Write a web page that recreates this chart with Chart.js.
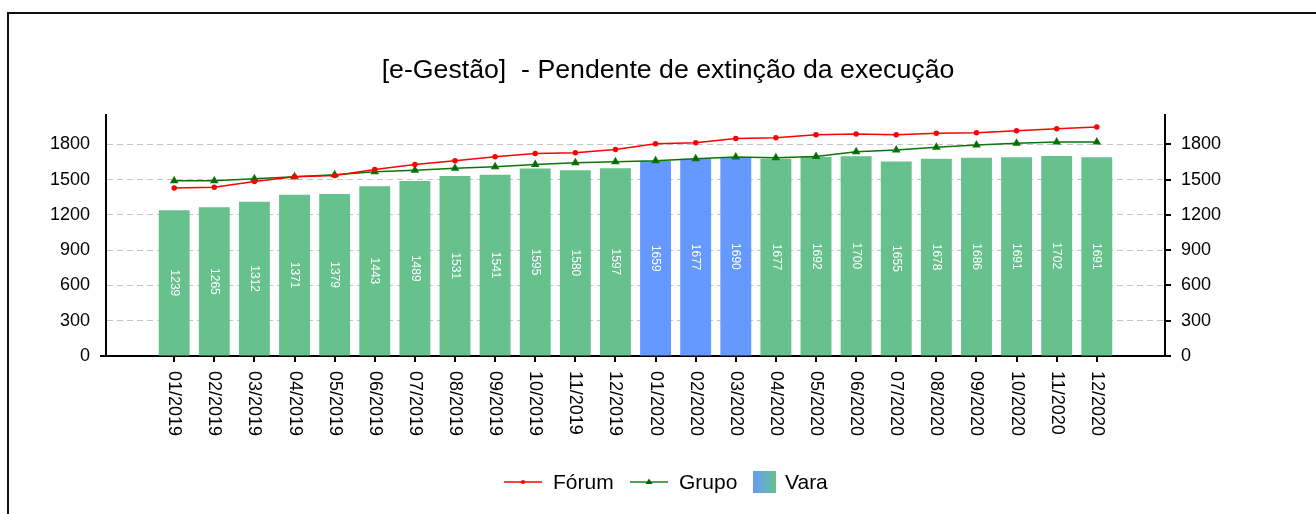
<!DOCTYPE html>
<html>
<head>
<meta charset="utf-8">
<script src="https://cdn.jsdelivr.net/npm/chart.js@4.4.1/dist/chart.umd.min.js"></script>
<style>
    html, body { margin: 0; padding: 0; background: #fff; overflow: hidden; }
    #moldura { position: absolute; left: 7px; top: 12px; width: 1400px; height: 600px; border-left: 2px solid #111; border-top: 2px solid #111; }
    #grafico { position: absolute; left: 0; top: 0; }
</style>
</head>
<body>
<div id="moldura"></div>
<canvas id="grafico" width="1316" height="514"></canvas>
<script>
// dados
const meses = ['01/2019', '02/2019', '03/2019', '04/2019', '05/2019', '06/2019', '07/2019', '08/2019', '09/2019', '10/2019', '11/2019', '12/2019',
               '01/2020', '02/2020', '03/2020', '04/2020', '05/2020', '06/2020', '07/2020', '08/2020', '09/2020', '10/2020', '11/2020', '12/2020'];
const vara  = [1239, 1265, 1312, 1371, 1379, 1443, 1489, 1531, 1541, 1595, 1580, 1597, 1659, 1677, 1690, 1677, 1692, 1700, 1655, 1678, 1686, 1691, 1702, 1691];
const forum = [1430, 1436, 1484, 1524, 1535, 1587, 1629, 1661, 1695, 1723, 1729, 1757, 1805, 1814, 1851, 1857, 1882, 1888, 1882, 1894, 1899, 1916, 1933, 1948];
const grupo = [1490, 1490, 1507, 1524, 1541, 1567, 1581, 1598, 1610, 1629, 1644, 1652, 1661, 1678, 1692, 1686, 1698, 1738, 1752, 1775, 1794, 1809, 1820, 1820];
const mesesDestaque = ['01/2020', '02/2020', '03/2020']; // barras em azul
const ticksY = [0, 300, 600, 900, 1200, 1500, 1800];

const titulo = '[e-Gestão]  - Pendente de extinção da execução';
const fonte = "'Liberation Sans', Arial, sans-serif";

const VERDE = '#66c18c';
const AZUL = '#6699ff';

Chart.defaults.font.family = fonte;
Chart.defaults.color = '#000';

// desenha titulo, rotulos do eixo x, valores nas barras e a legenda
const extras = {
    id: 'extras',
    afterDraw(chart) {
        const ctx = chart.ctx;
        const xs = chart.scales.x;
        const ca = chart.chartArea;

        ctx.save();
        // titulo
        ctx.font = '26.7px ' + fonte;
        ctx.fillStyle = '#000';
        ctx.textAlign = 'center';
        ctx.textBaseline = 'alphabetic';
        ctx.fillText(titulo, 668, 78);

        // tracinho do zero no eixo esquerdo
        ctx.strokeStyle = '#000';
        ctx.lineWidth = 2;
        ctx.beginPath(); ctx.moveTo(ca.left - 6, ca.bottom); ctx.lineTo(ca.left, ca.bottom); ctx.stroke();

        // rotulos do eixo x (girados, lendo de cima pra baixo)
        ctx.font = '18px ' + fonte;
        meses.forEach((m, i) => {
            ctx.save();
            ctx.translate(xs.getPixelForValue(i), 371);
            ctx.rotate(Math.PI / 2);
            ctx.textAlign = 'left';
            ctx.textBaseline = 'middle';
            ctx.fillText(m, 0, 0);
            ctx.restore();
        });

        // valores dentro das barras
        const meta = chart.getDatasetMeta(2);
        ctx.font = '12px ' + fonte;
        ctx.fillStyle = '#fff';
        meta.data.forEach((el, i) => {
            ctx.save();
            ctx.translate(el.x, (el.y + el.base) / 2);
            ctx.rotate(Math.PI / 2);
            ctx.textAlign = 'center';
            ctx.textBaseline = 'middle';
            ctx.fillText(String(vara[i]), 0, 0);
            ctx.restore();
        });

        // legenda
        const ly = 482;
        ctx.font = '21px ' + fonte;
        ctx.textAlign = 'left';
        ctx.textBaseline = 'middle';
        // Fórum
        ctx.strokeStyle = '#ff0000';
        ctx.lineWidth = 1.5;
        ctx.beginPath(); ctx.moveTo(504, ly); ctx.lineTo(542, ly); ctx.stroke();
        ctx.fillStyle = '#ff0000';
        ctx.beginPath(); ctx.arc(523, ly, 2, 0, Math.PI * 2); ctx.fill();
        ctx.fillStyle = '#000';
        ctx.fillText('Fórum', 553, ly + 1);
        // Grupo
        ctx.strokeStyle = '#1f7f1f';
        ctx.beginPath(); ctx.moveTo(630, ly); ctx.lineTo(668, ly); ctx.stroke();
        ctx.fillStyle = '#006400';
        ctx.beginPath(); ctx.moveTo(649, ly - 3.5); ctx.lineTo(652.5, ly + 2); ctx.lineTo(645.5, ly + 2); ctx.closePath(); ctx.fill();
        ctx.fillStyle = '#000';
        ctx.fillText('Grupo', 679, ly + 1);
        // Vara
        const grad = ctx.createLinearGradient(753, 0, 776, 0);
        grad.addColorStop(0, AZUL);
        grad.addColorStop(1, VERDE);
        ctx.fillStyle = grad;
        ctx.fillRect(753, 471, 23, 22);
        ctx.fillStyle = '#000';
        ctx.fillText('Vara', 785, ly + 1);
        ctx.restore();
    }
};

const chart = new Chart(document.getElementById('grafico'), {
    type: 'bar',
    data: {
        datasets: [
            {
                type: 'line',
                label: 'Fórum',
                data: forum.map((v, i) => ({ x: i, y: v })),
                borderColor: '#ff0000',
                backgroundColor: '#ff0000',
                borderWidth: 1.5,
                pointRadius: 2,
                pointStyle: 'circle',
                tension: 0,
                order: 0
            },
            {
                type: 'line',
                label: 'Grupo',
                data: grupo.map((v, i) => ({ x: i, y: v })),
                borderColor: '#0a750a',
                backgroundColor: '#006400',
                borderWidth: 1.5,
                pointRadius: 3.5,
                pointStyle: 'triangle',
                tension: 0,
                order: 1
            },
            {
                label: 'Vara',
                data: vara.map((v, i) => ({ x: i, y: v })),
                backgroundColor: meses.map(m => mesesDestaque.includes(m) ? AZUL : VERDE),
                categoryPercentage: 1,
                barPercentage: 0.77,
                order: 2
            }
        ]
    },
    options: {
        responsive: false,
        animation: false,
        layout: { padding: { top: 115, left: 0, right: 0, bottom: 0 } },
        plugins: {
            legend: { display: false },
            title: { display: false },
            tooltip: { enabled: false }
        },
        scales: {
            x: {
                type: 'linear',
                min: -1.7,
                max: 24.7,
                offset: false,
                ticks: { display: false },
                afterBuildTicks: s => { s.ticks = meses.map((m, i) => ({ value: i })); },
                grid: { offset: false, drawOnChartArea: false, drawTicks: true, tickLength: 6, color: '#000', lineWidth: 2 },
                border: { color: '#000', width: 2 },
                afterFit: s => { s.height = 158; }
            },
            y: {
                position: 'left',
                min: 0,
                max: 2050,
                afterBuildTicks: s => { s.ticks = ticksY.map(v => ({ value: v })); },
                ticks: { padding: 16, font: { size: 18 }, color: '#000', callback: v => String(v) },
                grid: { color: '#c4c4c4', lineWidth: 1, drawTicks: false },
                border: { color: '#000', width: 2, dash: [6, 4] },
                afterFit: s => { s.width = 106; }
            },
            y2: {
                position: 'right',
                min: 0,
                max: 2050,
                afterBuildTicks: s => { s.ticks = ticksY.map(v => ({ value: v })); },
                ticks: { padding: 10, font: { size: 18 }, color: '#000', callback: v => String(v) },
                grid: { drawOnChartArea: false, drawTicks: true, tickLength: 6, color: '#000', lineWidth: 2 },
                border: { color: '#000', width: 2 },
                afterFit: s => { s.width = 151; }
            }
        }
    },
    plugins: [extras]
});
</script>
</body>
</html>
